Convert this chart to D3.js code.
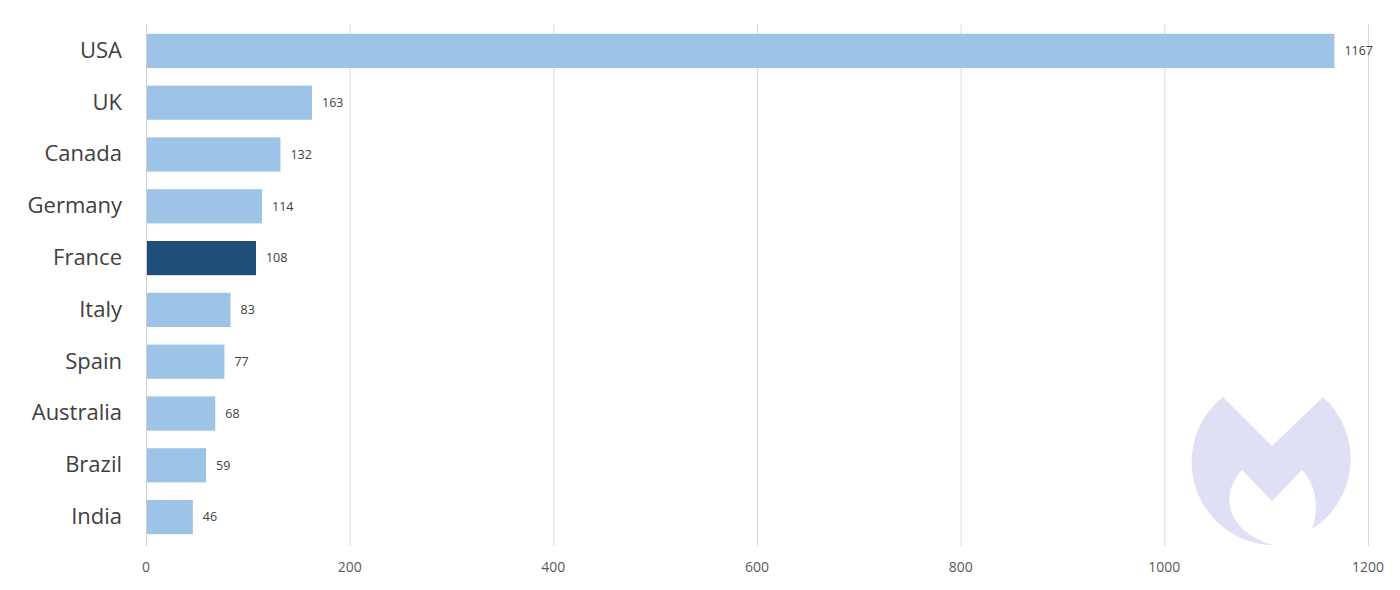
<!DOCTYPE html>
<html><head><meta charset="utf-8">
<script src="https://cdn.jsdelivr.net/npm/d3@7"></script>
<style>body{margin:0;background:#fff}svg{display:block}</style>
</head><body>
<svg id="chart" width="1400" height="590"></svg>
<script>
const categories = ["USA","UK","Canada","Germany","France","Italy","Spain","Australia","Brazil","India"];
const values = [1167,163,132,114,108,83,77,68,59,46];
const highlighted = ["France"];
const tickValues = [0,200,400,600,800,1000,1200];

const svg = d3.select("#chart");
const x = d3.scaleLinear().domain([0,1200]).range([146,1368]);
const y = d3.scaleBand().domain(categories).range([25,543]).paddingInner(0.34).paddingOuter(0.17);

// logo watermark
const r=83;
svg.append("path")
  .attr("d", `M1223,397 L1272,446 L1323,397 A${r},${r} 0 0 1 1312,529
    C1319,510 1317,485 1302,470 L1272,501 L1242,470
    C1221,492 1223,530 1273,545 A${r},${r} 0 0 1 1223,397 Z`)
  .attr("fill","#dfdff6");

// gridlines
svg.append("g").selectAll("line").data(tickValues).join("line")
  .attr("x1",d=>x(d)+0.5).attr("x2",d=>x(d)+0.5)
  .attr("y1",24).attr("y2",546)
  .attr("stroke",d=>d===0?"#d0d0d0":"#d9d9d9").attr("stroke-width",1);

// x axis labels
svg.append("g").selectAll("text").data(tickValues).join("text")
  .attr("x",d=>x(d)).attr("y",568).attr("text-anchor","middle")
  .attr("dominant-baseline","middle")
  .attr("font-family","'Open Sans', sans-serif").attr("font-size",14).attr("fill","#595959")
  .text(d=>d);

// bars
svg.append("g").selectAll("rect").data(categories).join("rect")
  .attr("x",x(0)+1).attr("y",d=>y(d))
  .attr("width",(d,i)=>x(values[i])-x(0)-1).attr("height",y.bandwidth())
  .attr("fill",d=>highlighted.includes(d)?"#1f4e79":"#9dc3e6");

// value labels
svg.append("g").selectAll("text").data(categories).join("text")
  .attr("x",(d,i)=>x(values[i])+10).attr("y",d=>y(d)+y.bandwidth()/2+1)
  .attr("dominant-baseline","middle")
  .attr("font-family","'Open Sans', sans-serif").attr("font-size",12.5).attr("fill","#404040")
  .text((d,i)=>values[i]);

// category labels
svg.append("g").selectAll("text").data(categories).join("text")
  .attr("x",122).attr("y",d=>y(d)+y.bandwidth()/2+1)
  .attr("text-anchor","end").attr("dominant-baseline","middle")
  .attr("font-family","'Open Sans', sans-serif").attr("font-size",22).attr("fill","#404040")
  .text(d=>d);
</script>
</body></html>
